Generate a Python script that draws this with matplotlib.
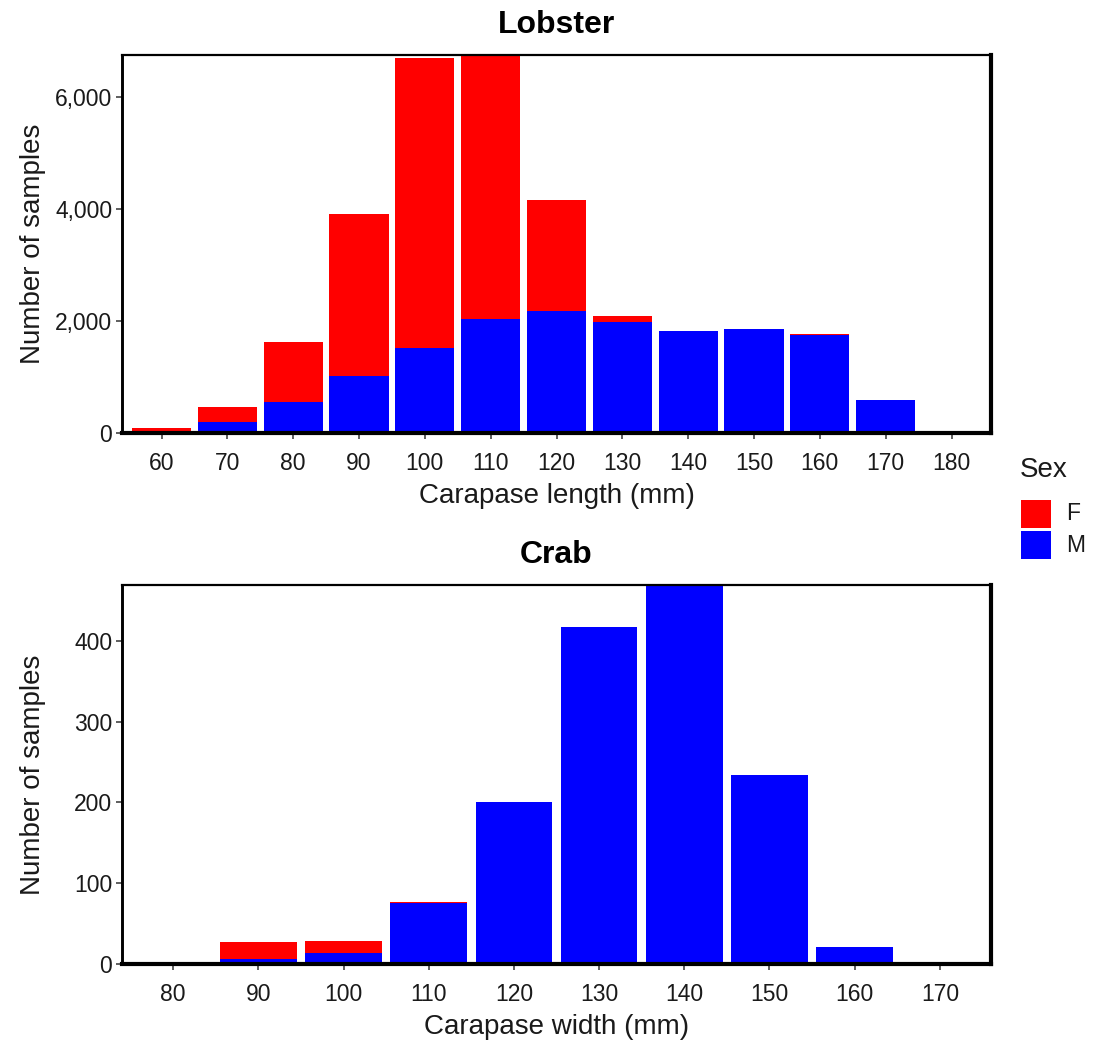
import matplotlib
matplotlib.use("Agg")
import matplotlib.pyplot as plt
from matplotlib.patches import Rectangle
from matplotlib.ticker import FuncFormatter

plt.rcParams['font.family'] = ['Liberation Sans', 'DejaVu Sans']

# Lobster carapase length bins (mm) and counts by sex
lob_bins = [60, 70, 80, 90, 100, 110, 120, 130, 140, 150, 160, 170, 180]
lob_m = [5, 190, 555, 1015, 1520, 2040, 2180, 1985, 1820, 1855, 1745, 585, 2]
lob_f = [80, 280, 1070, 2895, 5175, 4710, 1980, 105, 0, 0, 20, 0, 0]

# Crab carapase width bins (mm) and counts by sex
crab_bins = [80, 90, 100, 110, 120, 130, 140, 150, 160, 170]
crab_m = [0, 6, 14, 75, 201, 417, 469, 234, 21, 0]
crab_f = [0, 21, 15, 2, 0, 0, 0, 0, 0, 0]

sex_labels = ["F", "M"]
sex_colors = {"F": "#FF0000", "M": "#0000FF"}

W, H = 1094, 1043
fig = plt.figure(figsize=(W / 100, H / 100), dpi=100)
fig.patch.set_facecolor("white")

TICK_COL = "#333333"
TEXT_COL = "#1a1a1a"


def panel(rect, bins, males, females, title, xlabel, yticks):
    ax = fig.add_axes(rect)
    pos = list(range(len(bins)))
    ax.bar(pos, males, width=0.9, color=sex_colors["M"], linewidth=0, zorder=2)
    ax.bar(pos, females, width=0.9, bottom=males, color=sex_colors["F"],
           linewidth=0, zorder=2)
    totals = [m + f for m, f in zip(males, females)]
    ax.set_xlim(-0.6, len(bins) - 1 + 0.6)
    ax.set_ylim(0, max(totals))
    ax.set_xticks(pos)
    ax.set_xticklabels([str(b) for b in bins])
    ax.set_yticks(yticks)
    ax.yaxis.set_major_formatter(FuncFormatter(lambda v, p: f"{int(v):,}"))
    ax.tick_params(axis="both", direction="out", length=4, width=1.1,
                   color=TICK_COL, labelsize=16.5, labelcolor=TEXT_COL)
    ax.tick_params(axis="x", pad=9.5)
    ax.tick_params(axis="y", pad=3)
    for side, lw in (("top", 1.6), ("left", 2.1), ("right", 3.0), ("bottom", 3.0)):
        ax.spines[side].set_linewidth(lw)
        ax.spines[side].set_color("black")
        ax.spines[side].set_zorder(5)
    ax.set_title(title, fontsize=23, fontweight="bold", color="black", pad=15.5)
    ax.set_xlabel(xlabel, fontsize=20, color=TEXT_COL, labelpad=6)
    ax.set_ylabel("Number of samples", fontsize=20, color=TEXT_COL)
    ax.yaxis.set_label_coords(-0.088, 0.5)
    return ax


left = 122 / W
width = (991 - 122) / W

panel([left, 1 - 433 / H, width, (433 - 55) / H], lob_bins, lob_m, lob_f,
      "Lobster", "Carapase length (mm)", [0, 2000, 4000, 6000])
panel([left, 1 - 964 / H, width, (964 - 585) / H], crab_bins, crab_m, crab_f,
      "Crab", "Carapase width (mm)", [0, 100, 200, 300, 400])

# Legend for sex
fig.text(1020 / W, 1 - 470 / H, "Sex", fontsize=20, color=TEXT_COL,
         ha="left", va="center")
key_w, key_h = 30, 28
for i, lab in enumerate(sex_labels):
    top = 500 + i * 31
    fig.add_artist(Rectangle((1021 / W, 1 - (top + key_h) / H), key_w / W, key_h / H,
                             transform=fig.transFigure, facecolor=sex_colors[lab],
                             edgecolor="none"))
    fig.text(1066 / W, 1 - (top + key_h / 2) / H, lab, fontsize=16.5,
             color=TEXT_COL, ha="left", va="center")

fig.savefig("out.png", dpi=100)
